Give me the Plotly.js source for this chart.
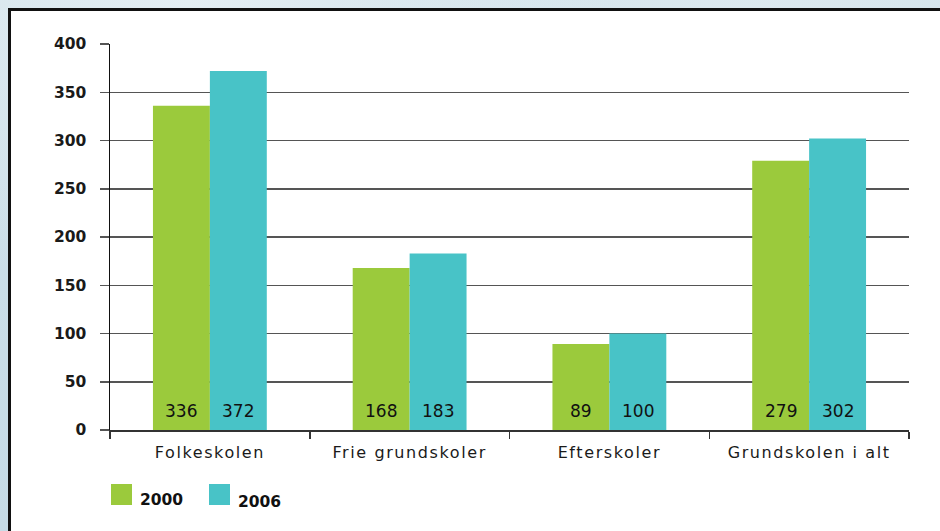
<!DOCTYPE html>
<html>
<head>
<meta charset="utf-8">
<script src="https://cdn.plot.ly/plotly-3.0.1.min.js"></script>
<style>
  html, body { margin: 0; padding: 0; width: 940px; height: 531px; overflow: hidden; }
  body {
    background:
      radial-gradient(ellipse at 20% 0%, #e4eef3 0%, rgba(228,238,243,0) 40%),
      radial-gradient(ellipse at 80% 5%, #dde9ef 0%, rgba(221,233,239,0) 40%),
      linear-gradient(180deg, #cfe1ea 0%, #c6dbe6 100%);
    position: relative;
  }
  #panel {
    position: absolute; left: 8px; top: 8px; width: 960px; height: 560px;
    background: #ffffff; border-left: 3px solid #111; border-top: 3px solid #111;
  }
  #chart { position: absolute; left: 0; top: 0; width: 940px; height: 531px; }
  #chart .xtick text { letter-spacing: 1.6px; }
</style>
</head>
<body>
<div id="panel"></div>
<div id="chart"></div>
<script>
const categories = ['Folkeskolen', 'Frie grundskoler', 'Efterskoler', 'Grundskolen i alt'];
const seriesNames = ['2000', '2006'];
const values2000 = [336, 168, 89, 279];
const values2006 = [372, 183, 100, 302];
const colors = ['#9BCA3C', '#48C3C7'];
const yTicks = [0, 50, 100, 150, 200, 250, 300, 350, 400];

const allValues = [values2000, values2006];
const gridColor = '#555555';

const traces = allValues.map((vals, i) => ({
  type: 'bar',
  name: seriesNames[i],
  x: categories,
  y: vals,
  marker: { color: colors[i], line: { width: 0 } },
  hoverinfo: 'x+y+name'
}));

const annotations = [];
allValues.forEach((vals, j) => {
  vals.forEach((v, i) => {
    annotations.push({
      xref: 'x', yref: 'y', x: categories[i], y: 0,
      xshift: j === 0 ? -28.5 : 28.5, yshift: 7,
      yanchor: 'bottom', xanchor: 'center',
      text: String(v), showarrow: false,
      font: { family: 'DejaVu Sans', size: 17, color: '#111111' }
    });
  });
});

const shapes = [];
seriesNames.forEach((name, j) => {
  const off = j * 98;
  shapes.push({
    type: 'rect', xref: 'paper', yref: 'paper',
    xsizemode: 'pixel', ysizemode: 'pixel', xanchor: 0, yanchor: 0,
    x0: 1 + off, x1: 22 + off, y0: -54, y1: -75,
    fillcolor: colors[j], line: { width: 0 }
  });
  annotations.push({
    xref: 'paper', yref: 'paper', x: 0, y: 0,
    xshift: 28 + off, yshift: j === 0 ? -69.5 : -71.5,
    xanchor: 'left', yanchor: 'middle', showarrow: false,
    text: name,
    font: { family: 'DejaVu Sans', size: 15.5, weight: 'bold', color: '#111111' }
  });
});

const layout = {
  width: 940, height: 531,
  margin: { l: 110, r: 31, t: 44, b: 101, pad: 0 },
  paper_bgcolor: 'rgba(0,0,0,0)',
  plot_bgcolor: 'rgba(0,0,0,0)',
  showlegend: false,
  barmode: 'group',
  bargap: 0.43,
  bargroupgap: 0,
  xaxis: {
    type: 'category',
    tickson: 'boundaries',
    ticks: 'outside', ticklen: 7, tickwidth: 1.5, tickcolor: '#333333',
    ticklabelstandoff: 7,
    showline: true, linecolor: '#333333', linewidth: 1.5,
    showgrid: false, zeroline: false,
    tickfont: { family: 'DejaVu Sans', size: 16, color: '#1a1a1a' },
    fixedrange: true
  },
  yaxis: {
    range: [0, 400],
    tickmode: 'array', tickvals: yTicks, ticktext: yTicks.map(String),
    ticks: 'outside', ticklen: 9, tickwidth: 1.5, tickcolor: gridColor,
    ticklabelstandoff: 10,
    showline: true, linecolor: '#111111', linewidth: 1.5,
    showgrid: true, gridcolor: gridColor, gridwidth: 1.5,
    zeroline: false,
    tickfont: { family: 'DejaVu Sans', size: 15.5, weight: 'bold', color: '#1a1a1a' },
    fixedrange: true
  },
  shapes: shapes,
  annotations: annotations
};

Plotly.newPlot('chart', traces, layout, { displayModeBar: false, staticPlot: true });
</script>
</body>
</html>
